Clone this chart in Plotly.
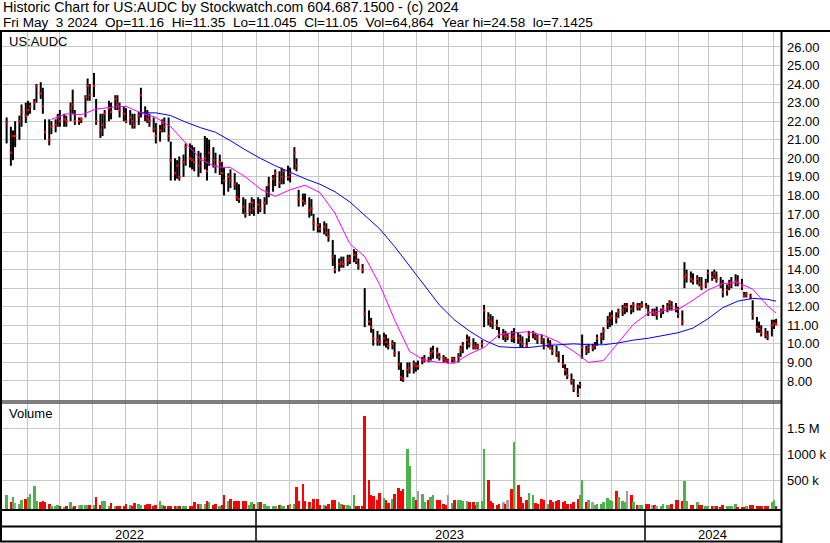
import pandas as pd
import plotly.graph_objects as go

# ---------------- data ----------------
TITLE = "Historic Chart for US:AUDC by Stockwatch.com 604.687.1500 - (c) 2024"
SUBTITLE = ("Fri May\u00a0\u00a03 2024\u00a0\u00a0Op=11.16\u00a0\u00a0Hi=11.35\u00a0\u00a0Lo=11.045"
            "\u00a0\u00a0Cl=11.05\u00a0\u00a0Vol=64,864\u00a0\u00a0Year hi=24.58\u00a0\u00a0lo=7.1425")
SYMBOL = "US:AUDC"
VOLUME_LABEL = "Volume"
LAST_DATE = "2024-05-03"

# one bar per two trading days, oldest first
high = [
    22.2, 21.7, 21.5, 22.0, 22.3, 22.9, 23.0, 23.1, 23.0, 23.2,
    24.0, 24.1, 23.8, 22.1, 22.1, 22.0, 22.1, 22.4, 22.6, 22.4,
    22.3, 23.0, 23.7, 22.6, 22.2, 22.2, 23.4, 24.3, 24.0, 24.6,
    23.2, 22.4, 22.4, 22.6, 23.1, 23.0, 23.4, 23.4, 23.0, 22.8,
    22.7, 22.6, 22.4, 22.4, 22.5, 23.8, 22.8, 22.6, 22.4, 22.2,
    21.9, 21.8, 22.1, 22.2, 22.2, 20.9, 20.0, 19.9, 20.1, 20.2,
    20.8, 20.8, 20.7, 20.6, 20.4, 20.3, 21.2, 21.1, 21.0, 20.6,
    20.3, 20.2, 19.8, 19.5, 19.2, 19.4, 19.2, 18.7, 18.6, 17.9,
    17.8, 17.6, 17.9, 17.8, 17.9, 17.8, 17.9, 18.5, 19.0, 19.1,
    19.4, 19.3, 19.5, 19.4, 19.6, 19.5, 20.6, 20.0, 18.3, 18.1,
    18.1, 17.9, 17.8, 17.0, 16.8, 16.5, 16.6, 16.5, 16.2, 15.6,
    14.8, 14.6, 14.7, 14.7, 14.8, 14.8, 15.1, 15.0, 14.6, 14.3,
    13.0, 11.8, 11.4, 10.8, 10.7, 10.5, 10.6, 10.5, 10.3, 10.2,
    10.1, 9.6, 9.0, 8.6, 9.0, 9.0, 9.1, 9.0, 9.1, 9.3,
    9.4, 9.3, 9.8, 9.9, 9.8, 9.5, 9.4, 9.3, 9.2, 9.3,
    9.3, 9.5, 9.9, 10.1, 10.5, 10.4, 10.3, 10.1, 10.0, 10.2,
    12.1, 11.7, 11.6, 11.5, 11.3, 10.9, 10.8, 10.7, 10.6, 10.7,
    10.85, 10.6, 10.5, 10.4, 10.3, 10.7, 10.7, 10.6, 10.5, 10.5,
    10.3, 10.3, 10.2, 9.95, 9.9, 9.6, 9.4, 8.9, 8.7, 8.4,
    8.1, 7.8, 7.95, 10.5, 9.9, 10.0, 10.0, 10.1, 10.5, 10.6,
    10.9, 11.5, 11.7, 11.8, 11.7, 11.9, 12.1, 12.2, 12.2, 12.1,
    12.25, 12.2, 12.2, 12.3, 12.2, 12.1, 11.9, 11.9, 12.0, 11.9,
    12.1, 12.2, 12.35, 12.3, 12.2, 12.0, 11.8, 14.4, 14.0, 13.9,
    13.8, 13.7, 13.6, 13.6, 13.5, 14.0, 13.9, 14.0, 13.9, 13.6,
    13.45, 13.2, 13.45, 13.6, 13.75, 13.7, 13.5, 12.8, 12.8, 12.7,
    12.35, 11.45, 11.2, 11.0, 10.85, 10.7, 11.3, 11.3, 11.35,
]
low = [
    20.8, 19.6, 19.9, 20.6, 21.0, 21.7, 21.9, 22.3, 22.4, 22.6,
    23.0, 23.2, 22.4, 21.0, 20.7, 21.3, 21.4, 21.7, 21.7, 21.7,
    21.7, 22.0, 22.4, 21.8, 21.8, 21.9, 22.2, 23.1, 23.1, 23.3,
    21.8, 21.1, 21.2, 21.6, 22.0, 22.1, 22.6, 22.6, 22.2, 22.0,
    21.9, 21.8, 21.6, 21.6, 21.8, 22.2, 22.0, 21.9, 21.7, 21.4,
    20.8, 20.9, 21.4, 21.4, 20.9, 18.8, 18.8, 18.9, 18.8, 19.0,
    19.6, 19.5, 19.4, 19.3, 19.0, 19.2, 19.4, 18.8, 19.6, 19.5,
    19.2, 19.1, 18.6, 18.0, 18.2, 18.4, 18.3, 17.7, 17.6, 17.0,
    16.8, 16.9, 17.0, 16.9, 17.0, 17.1, 17.0, 17.5, 17.9, 18.2,
    18.5, 18.4, 18.6, 18.6, 18.8, 18.7, 19.4, 19.3, 17.4, 17.4,
    17.5, 16.8, 16.9, 16.1, 16.0, 16.0, 15.9, 15.8, 15.5, 14.2,
    13.8, 13.9, 14.1, 14.1, 14.2, 14.3, 14.4, 14.3, 14.0, 13.8,
    10.9, 11.0, 10.6, 9.9, 9.9, 9.9, 9.9, 9.8, 9.7, 9.7,
    9.3, 8.6, 8.0, 7.95, 8.2, 8.4, 8.4, 8.5, 8.6, 8.9,
    9.0, 9.0, 9.1, 9.2, 9.2, 9.1, 9.0, 9.0, 8.95, 9.0,
    9.0, 9.0, 9.3, 9.5, 9.7, 9.8, 9.7, 9.7, 9.7, 9.8,
    10.9, 11.0, 10.9, 10.8, 10.75, 10.3, 10.2, 10.1, 10.2, 10.1,
    10.05, 10.0, 9.8, 9.8, 9.8, 10.1, 10.3, 10.2, 10.0, 10.0,
    9.7, 9.8, 9.7, 9.4, 9.3, 9.0, 8.7, 8.3, 8.1, 7.8,
    7.4, 7.14, 7.6, 9.2, 9.4, 9.5, 9.6, 9.7, 9.9, 10.0,
    10.2, 10.8, 10.9, 11.0, 11.1, 11.4, 11.5, 11.6, 11.7, 11.6,
    11.7, 11.8, 11.8, 11.95, 11.9, 11.5, 11.5, 11.5, 11.3, 11.4,
    11.6, 11.7, 11.8, 11.8, 11.7, 11.4, 11.0, 13.0, 13.3, 13.3,
    13.2, 13.2, 13.1, 12.9, 13.0, 13.3, 13.4, 13.5, 13.3, 13.0,
    12.5, 12.6, 12.9, 13.0, 13.1, 13.1, 12.9, 12.5, 12.5, 12.4,
    11.3, 10.6, 10.6, 10.4, 10.3, 10.2, 10.4, 10.8, 11.045,
]
close = [
    21.9, 20.3, 21.2, 21.2, 22.0, 22.5, 22.3, 22.6, 22.8, 23.0,
    23.9, 23.5, 22.8, 21.4, 21.0, 21.7, 21.8, 22.2, 22.0, 22.1,
    22.0, 22.7, 22.9, 22.0, 22.0, 22.1, 23.3, 23.9, 23.4, 23.9,
    22.0, 21.5, 21.8, 22.4, 22.7, 22.5, 23.2, 22.9, 22.6, 22.4,
    22.0, 22.2, 22.0, 21.8, 22.3, 23.4, 22.4, 22.1, 22.0, 21.6,
    21.2, 21.5, 21.9, 21.7, 21.2, 19.9, 19.2, 19.6, 19.0, 19.8,
    20.6, 20.0, 19.9, 19.8, 19.6, 19.9, 20.0, 19.3, 20.3, 19.9,
    19.6, 19.8, 19.2, 18.8, 19.0, 18.8, 18.6, 17.9, 17.8, 17.4,
    17.0, 17.2, 17.6, 17.3, 17.5, 17.3, 17.6, 18.2, 18.6, 18.9,
    19.2, 18.7, 19.0, 19.3, 19.0, 19.2, 20.3, 19.6, 17.8, 17.7,
    17.6, 17.2, 17.3, 16.5, 16.4, 16.2, 16.3, 16.0, 15.8, 14.7,
    14.0, 14.3, 14.4, 14.3, 14.5, 14.6, 14.8, 14.5, 14.2, 14.0,
    11.6, 11.2, 10.9, 10.3, 10.2, 10.1, 10.3, 10.1, 9.9, 10.0,
    9.5, 8.9, 8.2, 8.1, 8.6, 8.7, 8.9, 8.8, 8.8, 9.1,
    9.2, 9.1, 9.5, 9.6, 9.5, 9.3, 9.2, 9.1, 9.1, 9.2,
    9.1, 9.3, 9.7, 9.9, 10.2, 10.0, 9.9, 9.8, 9.9, 10.0,
    11.8, 11.4, 11.2, 11.1, 11.0, 10.5, 10.5, 10.4, 10.4, 10.3,
    10.4, 10.3, 10.1, 10.0, 9.9, 10.5, 10.6, 10.4, 10.3, 10.2,
    9.9, 10.0, 9.8, 9.6, 9.5, 9.2, 8.9, 8.6, 8.3, 8.0,
    7.6, 7.3, 7.8, 9.8, 9.6, 9.8, 9.8, 9.9, 10.3, 10.4,
    10.7, 11.2, 11.4, 11.5, 11.4, 11.7, 11.8, 12.0, 12.0, 11.9,
    12.1, 12.0, 12.0, 12.1, 12.0, 11.7, 11.7, 11.6, 11.6, 11.7,
    11.9, 12.0, 12.2, 12.0, 11.9, 11.6, 11.2, 13.6, 13.7, 13.5,
    13.4, 13.5, 13.3, 13.1, 13.2, 13.8, 13.6, 13.8, 13.5, 13.2,
    12.8, 12.9, 13.1, 13.3, 13.4, 13.3, 13.1, 12.6, 12.7, 12.5,
    11.6, 10.9, 10.8, 10.6, 10.5, 10.4, 11.0, 11.1, 11.05,
]
# volume in thousands of shares
volume_k = [
    270, 150, 240, 120, 110, 190, 200, 240, 300, 460,
    170, 150, 170, 140, 100, 60, 60, 90, 60, 50,
    60, 135, 45, 60, 80, 95, 95, 90, 90, 80,
    250, 90, 170, 170, 60, 120, 70, 70, 70, 70,
    110, 80, 60, 120, 110, 95, 95, 110, 110, 60,
    80, 155, 80, 70, 70, 60, 60, 60, 60, 60,
    60, 60, 60, 135, 110, 110, 110, 155, 140, 90,
    110, 60, 80, 270, 170, 205, 170, 170, 170, 155,
    155, 90, 140, 110, 140, 140, 110, 60, 60, 60,
    60, 80, 60, 60, 80, 110, 110, 440, 170, 495,
    170, 150, 60, 205, 205, 90, 80, 70, 110, 190,
    190, 140, 110, 80, 80, 60, 280, 60, 60, 60,
    1790, 560, 270, 260, 180, 315, 220, 190, 120, 200,
    300, 415, 350, 400, 1170, 830, 240, 180, 365, 300,
    140, 190, 240, 280, 190, 190, 110, 90, 270, 120,
    185, 185, 185, 170, 170, 140, 140, 90, 140, 170,
    1170, 577, 160, 120, 80, 110, 140, 110, 190, 400,
    1300, 480, 240, 120, 185, 325, 270, 120, 100, 205,
    185, 110, 190, 140, 160, 185, 140, 160, 110, 100,
    140, 205, 280, 560, 140, 185, 140, 90, 100, 100,
    140, 220, 185, 170, 365, 240, 160, 140, 365, 270,
    140, 90, 80, 90, 110, 110, 80, 80, 75, 75,
    110, 90, 90, 110, 185, 190, 170, 540, 170, 95,
    95, 140, 90, 80, 75, 75, 75, 60, 60, 50,
    80, 70, 70, 70, 110, 45, 45, 45, 60, 90,
    90, 60, 60, 60, 60, 60, 140, 185, 65,
]
# moving averages read every 5th bar, plus the last bar
ma_short = [
    None, None, None, 22.1, 22.4, 22.35, 22.65, 22.75, 22.8, 22.45,
    22.2, 21.7, 20.85, 19.95, 19.55, 19.5, 19.0, 18.35, 17.95, 18.3,
    18.55, 18.15, 17.05, 15.4, 14.7, 13.2, 11.3, 9.6, 9.1, 9.0,
    8.95, 9.45, 9.8, 10.5, 10.6, 10.65, 10.45, 10.1, 9.6, 9.0,
    9.1, 10.1, 11.05, 11.65, 11.8, 11.85, 12.35, 12.9, 13.25, 13.3,
    12.95, 12.05, 11.65,
]
ma_long = [
    None, None, None, None, None, None, None, None, None, 22.45,
    22.45, 22.3, 21.95, 21.65, 21.4, 20.95, 20.45, 20.0, 19.6, 19.25,
    18.9, 18.6, 18.2, 17.65, 16.95, 16.2, 15.25, 14.2, 13.2, 12.1,
    11.3, 10.7, 10.2, 9.85, 9.8, 9.8, 9.9, 9.95, 10.0, 9.95,
    9.95, 10.05, 10.2, 10.3, 10.45, 10.6, 10.85, 11.35, 11.95, 12.3,
    12.45, 12.4, 12.3,
]
MA_STEP = 5

price_ticks = list(range(8, 27))
price_tick_text = [f"{v:.2f}" for v in price_ticks]
vol_ticks = [500000, 1000000, 1500000]
vol_tick_text = ["500 k", "1000 k", "1.5 M"]
year_labels = ["2022", "2023", "2024"]
year_label_dates = ["2022-09-04", "2023-07-02", "2024-03-04"]
year_bounds = ["2023-01-01", "2024-01-01"]

# ---------------- figure ----------------
W, H = 830, 543
PR = 781  # right edge of plotting area (px)
X_RANGE = ["2022-05-05 19:00", "2024-05-07 14:00"]
VOL_RANGE = [-61500, 1987000]
FONT = "Liberation Sans, Arial, sans-serif"
GRID = "#c8c8c8"

n = min(len(high), len(low), len(close), len(volume_k))
bdays = pd.bdate_range(end=LAST_DATE, periods=2 * n)
dates = [d.strftime("%Y-%m-%d") for d in bdays[1::2]]
ma_pos = list(range(0, n, MA_STEP)) + [n - 1]
ma_dates = [dates[i] for i in ma_pos]

bar_x, bar_y = [], []
for d, h, l in zip(dates, high[:n], low[:n]):
    bar_x += [d, d, None]
    bar_y += [l, h, None]

vol_colors = []
prev = None
for c in close[:n]:
    if prev is None or c > prev:
        vol_colors.append("#4cb34c")
    elif c < prev:
        vol_colors.append("#ff0000")
    else:
        vol_colors.append("#a0a0a0")
    prev = c


def px(x):
    return x / W


def py(y):
    return 1 - y / H


fig = go.Figure()
fig.add_trace(go.Scatter(x=bar_x, y=bar_y, mode="lines",
                         line=dict(color="#000000", width=2),
                         hoverinfo="skip", showlegend=False))
fig.add_trace(go.Scatter(x=dates, y=close[:n], mode="markers",
                         marker=dict(symbol="square", size=2.2, color="#ff0000",
                                     line=dict(width=0)),
                         hoverinfo="skip", showlegend=False))
fig.add_trace(go.Scatter(x=ma_dates, y=ma_short[:len(ma_dates)], mode="lines",
                         line=dict(color="#ff00ff", width=1),
                         hoverinfo="skip", showlegend=False))
fig.add_trace(go.Scatter(x=ma_dates, y=ma_long[:len(ma_dates)], mode="lines",
                         line=dict(color="#0000ff", width=1),
                         hoverinfo="skip", showlegend=False))
# volume bars rise from the floor of the volume panel
fig.add_trace(go.Bar(x=dates, y=[v * 1000 for v in volume_k[:n]], base=VOL_RANGE[0],
                     marker=dict(color=vol_colors, line=dict(width=0)),
                     width=2.5 * 86400000,
                     xaxis="x2", yaxis="y2", hoverinfo="skip", showlegend=False))

xcommon = dict(type="date", range=X_RANGE, domain=[0, PR / W],
               showticklabels=False, showgrid=True, gridcolor=GRID, gridwidth=1,
               dtick="M1", tick0="2022-01-01", ticks="", zeroline=False,
               showline=False, automargin=False)
ycommon = dict(side="right", showgrid=True, gridcolor=GRID, gridwidth=1,
               zeroline=False, showline=False, ticks="", automargin=False,
               ticklabelstandoff=5,
               tickfont=dict(family=FONT, size=13, color="#000000"))

fig.update_layout(
    width=W, height=H,
    margin=dict(l=0, r=0, t=0, b=0),
    paper_bgcolor="white", plot_bgcolor="white",
    showlegend=False, bargap=0,
    xaxis=dict(anchor="y", **xcommon),
    xaxis2=dict(anchor="y2", matches="x", **xcommon),
    yaxis=dict(anchor="x", domain=[py(401), py(31)], range=[6.92, 26.86],
               tickvals=price_ticks, ticktext=price_tick_text, **ycommon),
    yaxis2=dict(anchor="x2", domain=[py(509.5), py(403)], range=VOL_RANGE,
                tickvals=vol_ticks, ticktext=vol_tick_text, **ycommon),
)

shapes = []


def hline(y, x0, x1, w):
    shapes.append(dict(type="line", xref="paper", yref="paper",
                       x0=px(x0), x1=px(x1), y0=py(y), y1=py(y),
                       line=dict(color="black", width=w)))


def vline(x, y0, y1, w):
    shapes.append(dict(type="line", xref="paper", yref="paper",
                       x0=px(x), x1=px(x), y0=py(y0), y1=py(y1),
                       line=dict(color="black", width=w)))


hline(31, 0, W, 2)
vline(1, 31, 542, 2)
vline(PR + 0.5, 31, H, 2)
hline(401, 0, PR, 1)
hline(403, 0, PR, 1)
hline(510, 0, PR, 2)
hline(526.5, 0, PR, 2)
hline(541.5, 0, PR, 2)
for d in year_bounds:
    shapes.append(dict(type="line", xref="x", yref="paper", x0=d, x1=d,
                       y0=py(541.5), y1=py(510), line=dict(color="black", width=1.5)))
fig.update_layout(shapes=shapes)

ann = [
    dict(text=TITLE, x=px(2), y=py(7), xanchor="left", yanchor="middle",
         font=dict(family=FONT, size=14.2, color="#000000")),
    dict(text=SUBTITLE, x=px(2), y=py(22), xanchor="left", yanchor="middle",
         font=dict(family=FONT, size=13.6, color="#000000")),
    dict(text=SYMBOL, x=px(8), y=py(41.5), xanchor="left", yanchor="middle",
         font=dict(family=FONT, size=13, color="#000000")),
    dict(text=VOLUME_LABEL, x=px(8), y=py(413.5), xanchor="left", yanchor="middle",
         font=dict(family=FONT, size=13, color="#000000")),
]
for a in ann:
    a.update(xref="paper", yref="paper", showarrow=False, borderpad=0)
for lab, d in zip(year_labels, year_label_dates):
    ann.append(dict(text=lab, x=d, y=py(534.5), xref="x", yref="paper",
                    xanchor="center", yanchor="middle", showarrow=False,
                    font=dict(family=FONT, size=13, color="#000000")))
fig.update_layout(annotations=ann)

fig.write_html("out.html", config={"displayModeBar": False},
               post_script="document.body.style.margin='0';document.body.style.overflow='hidden';")
